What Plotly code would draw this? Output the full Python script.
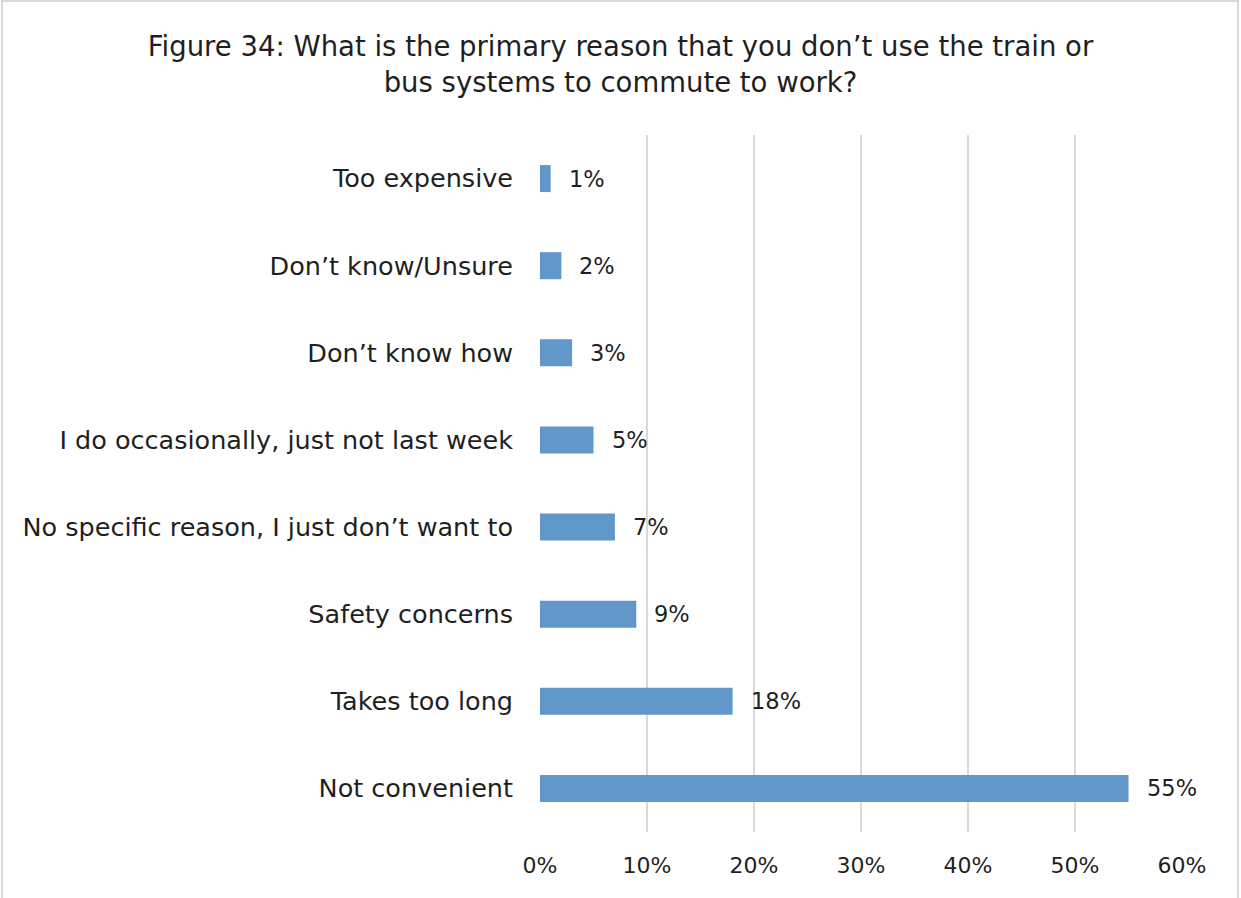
import plotly.graph_objects as go

# Survey responses, listed bottom-to-top as drawn on the category axis
reasons = [
    "Not convenient",
    "Takes too long",
    "Safety concerns",
    "No specific reason, I just don’t want to",
    "I do occasionally, just not last week",
    "Don’t know how",
    "Don’t know/Unsure",
    "Too expensive",
]
shares = [55, 18, 9, 7, 5, 3, 2, 1]
x_ticks = [0, 10, 20, 30, 40, 50, 60]
x_tick_labels = ["0%", "10%", "20%", "30%", "40%", "50%", "60%"]

FONT = "DejaVu Sans"
TXT = "#1f1f1f"
W, H = 1241, 898
ML, MR, MT, MB = 540, 59, 135, 66

fig = go.Figure(
    go.Bar(
        x=shares,
        y=reasons,
        orientation="h",
        width=0.31,
        marker=dict(color="#6197C9", line=dict(width=0)),
        hoverinfo="skip",
    )
)

# Value labels just to the right of each bar
for r, v in zip(reasons, shares):
    fig.add_annotation(
        x=v, y=r, text=f"{v}%", showarrow=False,
        xanchor="left", yanchor="middle", xshift=16,
        font=dict(family=FONT, size=22.5, color=TXT),
    )

# Light frame around the whole chart area
pw = W - ML - MR
ph = H - MT - MB
fig.add_shape(
    type="rect", xref="paper", yref="paper",
    x0=(2 - ML) / pw, x1=(W - 3 - ML) / pw,
    y0=-(MB + 5) / ph, y1=1 + (MT - 1) / ph,
    line=dict(color="#D9D9D9", width=2), fillcolor="rgba(0,0,0,0)",
    layer="below",
)

fig.update_layout(
    width=W, height=H,
    margin=dict(l=ML, r=MR, t=MT, b=MB),
    paper_bgcolor="white", plot_bgcolor="white",
    showlegend=False,
    title=dict(
        text="Figure 34: What is the primary reason that you don’t use the train or<br>bus systems to commute to work?",
        x=0.5, xanchor="center", y=1 - 56 / H, yanchor="middle",
        font=dict(family=FONT, size=27.5, color=TXT),
    ),
    xaxis=dict(
        range=[0, 60], tickvals=x_ticks, ticktext=x_tick_labels,
        showgrid=True, gridcolor="#D9D9D9", gridwidth=2,
        zeroline=False, showline=False, ticks="",
        ticklabelstandoff=18,
        tickfont=dict(family=FONT, size=22, color=TXT),
        fixedrange=True,
    ),
    yaxis=dict(
        categoryorder="array", categoryarray=reasons,
        showgrid=False, zeroline=False, showline=False, ticks="",
        ticklabelstandoff=26,
        tickfont=dict(family=FONT, size=25.5, color=TXT),
        fixedrange=True,
    ),
)

fig.write_html("out.html")
